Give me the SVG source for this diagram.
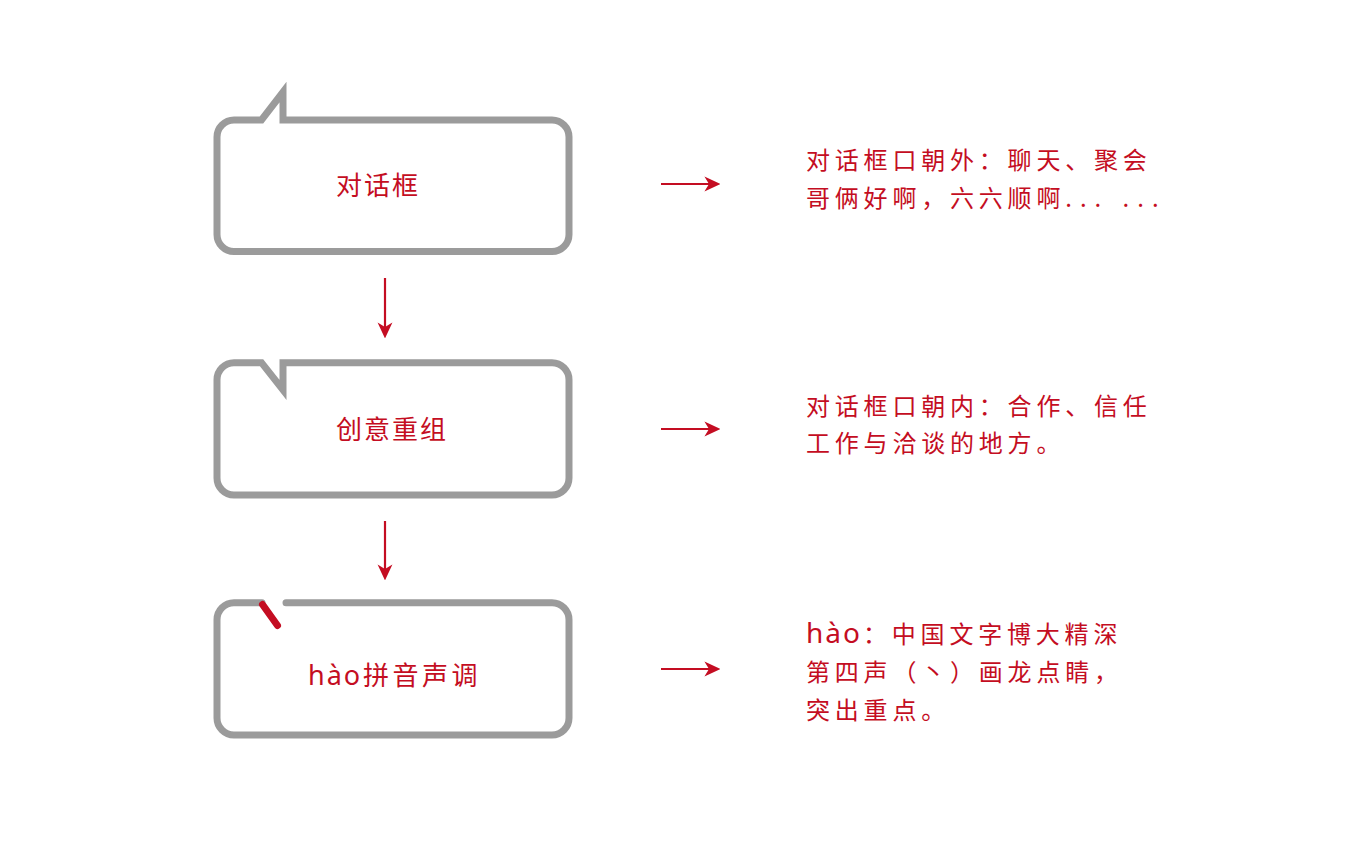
<svg xmlns="http://www.w3.org/2000/svg" width="1366" height="854" viewBox="0 0 1366 854">
<defs>
<style>
.box{fill:#fff;stroke:#9b9b9b;stroke-width:7;stroke-linejoin:miter;stroke-miterlimit:10}
.lbl{font-family:"Noto Sans CJK SC","Noto Sans",sans-serif;font-size:26px;fill:#c40d22;letter-spacing:2px}
.desc{font-family:"Noto Sans CJK SC",sans-serif;font-size:24px;fill:#c40d22;letter-spacing:4.8px}
.lat{font-family:"Noto Sans","Noto Sans CJK SC",sans-serif}
.arr{stroke:#c40d22;stroke-width:2.2;fill:none;marker-end:url(#ah)}
</style>
<marker id="ah" markerUnits="userSpaceOnUse" markerWidth="16" markerHeight="16" viewBox="0 -7 14 14" refX="4" refY="0" orient="auto">
<path d="M0,-6.5 L14,0 L0,6.5 L4,0 Z" fill="#c40d22"/>
</marker>
</defs>
<rect width="1366" height="854" fill="#fff"/>
<g id="node-dialog">
<path class="box" d="M261.5 120 L234 120 A17 17 0 0 0 217 137 L217 234.5 A17 17 0 0 0 234 251.5 L552 251.5 A17 17 0 0 0 569 234.5 L569 137 A17 17 0 0 0 552 120 L283 120 L283 92 Z"/>
<text class="lbl" x="336" y="195">对话框</text>
</g>
<g id="node-recombine">
<path class="box" d="M261.5 362.7 L234 362.7 A17 17 0 0 0 217 379.7 L217 478 A17 17 0 0 0 234 495 L552 495 A17 17 0 0 0 569 478 L569 379.7 A17 17 0 0 0 552 362.7 L283 362.7 L283 390 Z"/>
<text class="lbl" x="336" y="439">创意重组</text>
</g>
<g id="node-hao">
<path class="box" style="stroke-linecap:round;stroke-linejoin:round" d="M262 602.7 L234 602.7 A17 17 0 0 0 217 619.7 L217 718 A17 17 0 0 0 234 735 L552 735 A17 17 0 0 0 569 718 L569 619.7 A17 17 0 0 0 552 602.7 L286 602.7"/>
<path d="M262.5 604.5 L277.5 625.5" stroke="#c40d22" stroke-width="7" stroke-linecap="round" fill="none"/>
<text class="lbl" x="308" y="685"><tspan class="lat" font-size="27">hào</tspan><tspan x="363" letter-spacing="3.5">拼音声调</tspan></text>
</g>
<g id="desc-1">
<text class="desc" x="806" y="168.5">对话框口朝外：聊天、聚会</text>
<text class="desc" x="806" y="206.5">哥俩好啊，六六顺啊<tspan letter-spacing="8">... ...</tspan></text>
</g>
<g id="desc-2">
<text class="desc" x="806" y="414.5">对话框口朝内：合作、信任</text>
<text class="desc" x="806" y="451.5">工作与洽谈的地方。</text>
</g>
<g id="desc-3">
<text class="desc" x="806" y="642.5"><tspan class="lat" font-size="28" letter-spacing="2">hào</tspan><tspan x="863">：中国文字博大精深</tspan></text>
<text class="desc" x="806" y="680.5">第四声（丶）画龙点睛，</text>
<text class="desc" x="806" y="719">突出重点。</text>
</g>
<g id="connectors">
<line class="arr" x1="385" y1="278" x2="385" y2="327"/>
<line class="arr" x1="385" y1="521" x2="385" y2="569"/>
<line class="arr" x1="661" y1="184" x2="709" y2="184"/>
<line class="arr" x1="661" y1="429" x2="709" y2="429"/>
<line class="arr" x1="661" y1="669" x2="709" y2="669"/>
</g>
</svg>
